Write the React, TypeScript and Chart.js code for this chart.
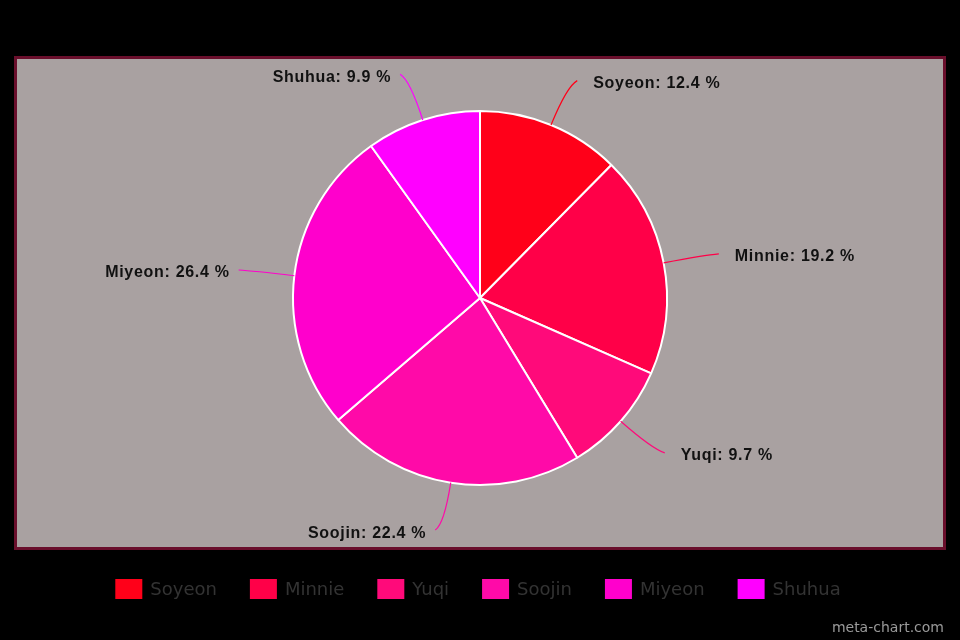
import React, { useEffect, useRef } from "react";
import { Chart, registerables } from "chart.js";

Chart.register(...registerables);

const categories = ["Soyeon", "Minnie", "Yuqi", "Soojin", "Miyeon", "Shuhua"];
const shares = [12.4, 19.2, 9.7, 22.4, 26.4, 9.9];
const sliceColors = ["#ff0019", "#ff0048", "#ff0a7a", "#ff0aa8", "#ff00cc", "#ff00ff"];
const watermark = "meta-chart.com";

const backgroundPlugin = {
  id: "bgPanel",
  beforeDraw(chart: any) {
    const ctx = chart.ctx;
    ctx.save();
    ctx.fillStyle = "#000000";
    ctx.fillRect(0, 0, chart.width, chart.height);
    ctx.fillStyle = "#a9a1a1";
    ctx.fillRect(15, 57, 930, 492);
    ctx.strokeStyle = "#6a0f2c";
    ctx.lineWidth = 3;
    ctx.strokeRect(15.5, 57.5, 929, 491);
    ctx.restore();
  },
};

const labelPlugin = {
  id: "sliceLabels",
  afterDatasetsDraw(chart: any) {
    const ctx = chart.ctx;
    const meta = chart.getDatasetMeta(0);
    ctx.save();
    meta.data.forEach((arc: any, i: number) => {
      const { x, y, startAngle, endAngle, outerRadius } = arc.getProps(
        ["x", "y", "startAngle", "endAngle", "outerRadius"],
        true
      );
      const mid = (startAngle + endAngle) / 2;
      const c = Math.cos(mid);
      const s = Math.sin(mid);
      const side = c >= 0 ? 1 : -1;
      const ax = x + outerRadius * c;
      const ay = y + outerRadius * s;
      const px = x + (outerRadius + 42) * c;
      const py = y + (outerRadius + 42) * s;
      const ex = x + (outerRadius + 48) * c + side * 8;
      const ey = y + (outerRadius + 48) * s;
      ctx.beginPath();
      ctx.moveTo(ax, ay);
      ctx.quadraticCurveTo(px, py, ex, ey);
      ctx.strokeStyle = sliceColors[i];
      ctx.lineWidth = 1.2;
      ctx.stroke();

      ctx.font = "bold 16px 'Liberation Sans', Arial, sans-serif";
      (ctx as any).letterSpacing = "0.7px";
      ctx.fillStyle = "#111111";
      ctx.textBaseline = "middle";
      ctx.textAlign = side > 0 ? "left" : "right";
      const text = `${categories[i]}: ${shares[i].toFixed(1)} %`;
      const gap = side > 0 ? 16 : 9;
      ctx.fillText(text, ex + side * gap, ey + 3);
    });
    ctx.restore();
  },
};

const legendPlugin = {
  id: "bottomLegend",
  afterDraw(chart: any) {
    const ctx = chart.ctx;
    ctx.save();
    ctx.font = "18px 'DejaVu Sans', sans-serif";
    const boxW = 27;
    const boxH = 20;
    const boxGap = 8;
    const itemGap = 33;
    const widths = categories.map((c) => boxW + boxGap + ctx.measureText(c).width);
    const total = widths.reduce((a, b) => a + b, 0) + itemGap * (categories.length - 1);
    let cx = 478 - total / 2;
    const yMid = 589;
    categories.forEach((c, i) => {
      ctx.fillStyle = sliceColors[i];
      ctx.fillRect(cx, yMid - boxH / 2, boxW, boxH);
      ctx.fillStyle = "#333333";
      ctx.textBaseline = "middle";
      ctx.textAlign = "left";
      ctx.fillText(c, cx + boxW + boxGap, yMid + 1);
      cx += widths[i] + itemGap;
    });
    ctx.font = "14px 'DejaVu Sans', sans-serif";
    ctx.fillStyle = "#9a9a9a";
    ctx.textAlign = "right";
    ctx.textBaseline = "alphabetic";
    ctx.fillText(watermark, 944, 632);
    ctx.restore();
  },
};

export default function App() {
  const ref = useRef<HTMLCanvasElement | null>(null);
  useEffect(() => {
    if (!ref.current) return;
    const chart = new Chart(ref.current, {
      type: "pie",
      data: {
        labels: categories,
        datasets: [
          {
            data: shares,
            backgroundColor: sliceColors,
            borderColor: "#ffffff",
            borderWidth: 2,
            hoverOffset: 0,
            offset: 0,
          },
        ],
      },
      options: {
        responsive: false,
        animation: false,
        layout: { padding: { top: 110, bottom: 154, left: 292, right: 292 } },
        plugins: {
          legend: { display: false },
          tooltip: { enabled: false },
        },
      },
      plugins: [backgroundPlugin, labelPlugin, legendPlugin],
    });
    return () => chart.destroy();
  }, []);
  return (
    <div style={{ position: "fixed", left: 0, top: 0, width: 960, height: 640, background: "#000" }}>
      <canvas ref={ref} width={960} height={640} style={{ display: "block" }} />
    </div>
  );
}
